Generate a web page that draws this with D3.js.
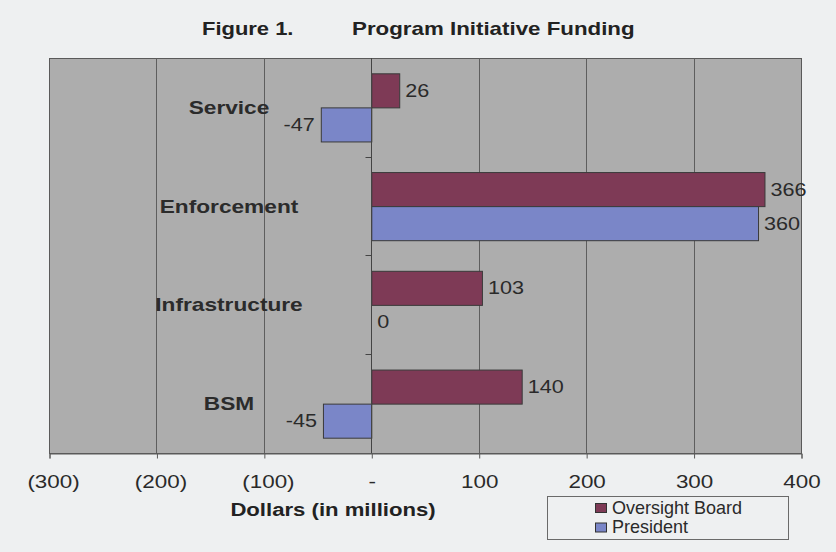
<!DOCTYPE html>
<html><head><meta charset="utf-8">
<script src="https://cdn.jsdelivr.net/npm/d3@7"></script>
<style>
html,body{margin:0;padding:0;background:#eef0f1;}
svg{display:block;font-family:"Liberation Sans",Arial,sans-serif;}
</style></head>
<body><svg id="c" width="836" height="552"></svg>
<script>
const categories = ["Service", "Enforcement", "Infrastructure", "BSM"];
const seriesNames = ["Oversight Board", "President"];
const oversightBoard = [26, 366, 103, 140];
const president = [-47, 360, 0, -45];
const xTicks = [-300, -200, -100, 0, 100, 200, 300, 400];
const colors = ["#7e3a56", "#7a86c8"];

const svg = d3.select("#c");
const W = 836, H = 552;
svg.append("rect").attr("width", W).attr("height", H).attr("fill", "#eef0f1");

const pL = 49, pR = 801, pT = 58, pB = 453;
const x = d3.scaleLinear().domain([-300, 400]).range([pL, pR]);
const y = d3.scaleBand().domain(categories).range([pT, pB]).paddingInner(0.31).paddingOuter(0.155);
const ys = d3.scaleBand().domain(seriesNames).range([0, y.bandwidth()]);

// stretched text helper (reference fonts are horizontally wide)
function stext(parent, tx, ty, str, opts) {
  const o = Object.assign({size: 18, sx: 1.2, weight: "normal", anchor: "start", fill: "#2a2a2a", dy: null}, opts || {});
  const t = parent.append("text")
    .attr("transform", `translate(${tx},${ty}) scale(${o.sx},1)`)
    .attr("font-size", o.size).attr("font-weight", o.weight)
    .attr("text-anchor", o.anchor).attr("fill", o.fill).text(str);
  if (o.dy) t.attr("dy", o.dy);
  return t;
}

// plot background
svg.append("rect").attr("x", pL + 0.5).attr("y", pT + 0.5).attr("width", pR - pL).attr("height", pB - pT)
  .attr("fill", "#adadad").attr("stroke", "#5a5a5a").attr("stroke-width", 1);

// gridlines
svg.append("g").selectAll("line").data(xTicks.filter(d => d !== 0 && d !== -300 && d !== 400)).join("line")
  .attr("x1", d => Math.round(x(d)) + 0.5).attr("x2", d => Math.round(x(d)) + 0.5).attr("y1", pT).attr("y2", pB)
  .attr("stroke", "#5e5e5e").attr("stroke-width", 1);

// bottom axis
const fmt = d => d < 0 ? "(" + (-d) + ")" : d === 0 ? "-" : String(d);
const xAxis = d3.axisBottom(x).tickValues(xTicks).tickFormat(fmt).tickSize(5).tickPadding(16);
const gx = svg.append("g").attr("transform", `translate(0.5,${pB + 0.5})`).call(xAxis);
gx.select(".domain").attr("stroke", "#5a5a5a");
gx.selectAll(".tick line").attr("stroke", "#5a5a5a");
gx.selectAll(".tick text").attr("font-size", 19).attr("fill", "#2a2a2a")
  .attr("font-family", "Liberation Sans, Arial, sans-serif")
  .attr("transform", "scale(1.18,1)")
  .attr("dx", d => d < 0 ? 3 : 0);

// bars
const data = categories.map((c, i) => ({c, vals: [oversightBoard[i], president[i]]}));
const g = svg.append("g");
data.forEach(d => {
  d.vals.forEach((v, j) => {
    const s = seriesNames[j];
    const y0 = y(d.c) + ys(s);
    if (v !== 0) {
      g.append("rect")
        .attr("x", Math.min(x(0), x(v)) + 0.5).attr("y", y0 + 0.5)
        .attr("width", Math.abs(x(v) - x(0))).attr("height", ys.bandwidth())
        .attr("fill", colors[j]).attr("stroke", "#3a3a3a").attr("stroke-width", 1);
    }
    const tx = v < 0 ? x(v) - 6 : x(v) + 6;
    stext(g, tx, y0 + ys.bandwidth() / 2, v, {size: 18, sx: 1.2, anchor: v < 0 ? "end" : "start", dy: "0.36em"});
  });
});

// zero axis line with ticks
const gy = svg.append("g").attr("transform", `translate(${Math.round(x(0)) + 0.5},0)`);
gy.append("line").attr("y1", pT).attr("y2", pB).attr("stroke", "#444");
const bounds = categories.slice(1).map(c => y(c) - y.step() * y.paddingInner() / 2);
gy.selectAll("line.t").data(bounds).join("line").attr("class", "t")
  .attr("x1", -6).attr("x2", 0).attr("y1", d => Math.round(d) + 0.5).attr("y2", d => Math.round(d) + 0.5).attr("stroke", "#444");

// category labels
const cl = svg.append("g");
categories.forEach(c => {
  stext(cl, 229, y(c) + y.bandwidth() / 2, c, {size: 18, sx: 1.26, weight: "bold", anchor: "middle", fill: "#2b2b2b", dy: "0.36em"});
});

// title
stext(svg, 202, 35, "Figure 1.", {size: 18, sx: 1.22, weight: "bold", fill: "#222"});
stext(svg, 352, 35, "Program Initiative Funding", {size: 18, sx: 1.24, weight: "bold", fill: "#222"});

// axis title
stext(svg, 333, 516, "Dollars (in millions)", {size: 18, sx: 1.23, weight: "bold", anchor: "middle", fill: "#222"});

// legend
const lg = svg.append("g").attr("transform", "translate(547,496)");
lg.append("rect").attr("x", 0.5).attr("y", 0.5).attr("width", 241).attr("height", 43)
  .attr("fill", "#eef0f1").attr("stroke", "#6a6a6a");
seriesNames.forEach((s, i) => {
  lg.append("rect").attr("x", 48.5).attr("y", 7.5 + i * 19.5).attr("width", 11).attr("height", 9)
    .attr("fill", colors[i]).attr("stroke", "#333");
  stext(lg, 65, 17.5 + i * 19.5, s, {size: 17.5, sx: 1.03, fill: "#2a2a2a"});
});
</script></body></html>
